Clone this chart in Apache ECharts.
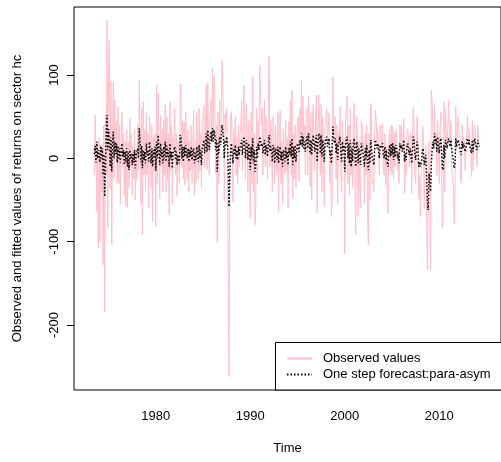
<!DOCTYPE html>
<html>
<head>
<meta charset="utf-8">
<script src="https://cdn.jsdelivr.net/npm/echarts@6/dist/echarts.min.js"></script>
<style>
  html, body { margin: 0; padding: 0; background: #fff; }
  #chart { width: 501px; height: 462px; }
</style>
</head>
<body>
<div id="chart"></div>
<script>
// monthly series, first value is July 1973
const startYear = 1973.5;

// observed returns
const observed = [
  -20, 52, 10, -64, 20, -108,
  25, -100, 15, -40, 10, -128, 40, -184, 52, -20, 166, -84,
  110, 142, -36, 92, -104, 30, 92, -24, 70, 10, 45, -30,
  62, -30, 40, -55, 25, 55, -10, 30, -45, 20, -58, 35,
  -60, 20, -35, 48, -10, 30, -45, 15, -25, 35, -50, 10,
  -26, 40, -15, 94, 20, -54, 60, -92, 68, -20, 35, -40,
  55, -20, 30, -60, 52, 10, -35, 40, -76, 25, -15, 30,
  -82, 88, -30, 78, 20, -48, 52, -10, 35, -40, 45, -20,
  64, -40, 50, -25, 30, -68, 68, -15, 40, -55, 25, 10,
  60, -20, 30, -45, 20, 10, -30, 90, 85, -10, 45, -25,
  44, -32, 56, 10, -25, 35, -40, 20, -15, 40, -30, 15,
  58, -44, 20, -30, 54, 10, -25, 60, -15, 30, -35, 40,
  48, 64, -10, 30, 88, -14, 90, 20, -20, 55, 70, 25,
  108, 30, 98, 78, -18, 40, -100, 56, -30, 70, 20, 45,
  118, 96, 40, -52, 54, 30, 60, 20, -152, -262, -30, 50,
  56, 20, -52, 35, 10, 50, -20, 25, -30, 40, -10, 30,
  40, 70, -15, 50, 88, 20, -25, 65, 30, -40, 45, 10,
  -72, 55, -30, 98, -40, 30, -80, -55, 60, -30, 45, 20,
  112, 80, 40, 60, -20, 30, 70, -10, 50, 20, -25, 75,
  123, -10, 45, 20, -40, 50, 30, -30, 40, 10, -20, 55,
  -64, 40, 58, -30, 20, -54, 35, 10, -20, 45, -15, 25,
  -60, 44, 10, 70, -20, 82, -48, 30, -25, 40, -35, 20,
  45, 50, -28, 60, 30, 94, 20, 75, 10, 40, -20, 55,
  60, -20, 74, 30, -34, 55, -50, 40, 65, 20, -15, 50,
  76, -66, 30, 76, 45, -20, 65, -40, 50, 10, -58, 40,
  45, 60, 20, 35, 55, -30, 10, -70, -50, 98, 40, 30,
  50, -25, 40, -54, 30, 20, 62, -15, -40, 45, 10, 25,
  -114, 45, 55, 74, -30, 40, -45, 60, -20, 20, -35, 50,
  66, -40, -92, 50, 30, -70, 20, -30, -60, 45, 40, 10,
  20, -54, 30, -20, 40, -66, -104, 30, -50, 66, 45, -30,
  -25, -40, 30, 58, 45, 20, 35, 10, -20, 40, 25, 15,
  42, -10, -20, 30, -32, 15, -45, -66, 20, 35, -15, 40,
  -20, 38, -25, 30, -10, 35, 25, -15, 10, -30, 40, 20,
  40, 10, 20, 48, -42, 5, -20, 30, 35, 25, -10, 20,
  30, -42, 25, 62, 40, -15, -30, 20, 50, 15, -48, -20,
  -70, -20, 5, 38, 20, -60, -10, 15, -75, -134, -50, 20,
  -40, -134, 82, 68, 35, 10, 64, 20, 30, -20, 45, 15,
  -30, 35, 55, -20, -84, -45, 68, -40, 60, 30, 10, 40,
  70, 30, 15, 45, -15, -25, -35, -78, -50, 62, 10, 25,
  50, 35, 25, -20, -30, 40, 15, 25, 20, -15, 10, 30,
  52, 20, 35, 15, 10, -22, 45, -15, 30, 40, 25, 10,
  -10, 40, 20, 15
];

// one step forecast (para-asym)
const fitted = [
  5, 15, -5, 20, 0, 10,
  10, -5, 15, 0, 12, -20, 5, -46, -10, 30, 52, 10,
  35, 20, -10, 25, -16, 15, 32, 0, 20, 5, 18, -5,
  15, 0, 12, -5, 10, 18, 2, 10, -8, 8, -4, 12,
  -10, 8, -14, 10, 0, 5, -8, 6, -5, 10, -12, 4,
  2, 12, 0, 36, 20, -5, 15, -12, 10, -2, 8, -6,
  18, 4, 10, -4, 20, 8, -6, 12, -10, 10, 2, 14,
  -15, 20, 0, 28, 10, -8, 18, 2, 10, -6, 14, 0,
  20, -4, 15, 2, 10, -10, 18, 0, 8, -12, 6, 4,
  14, -2, 8, -8, 4, 2, -6, 28, 24, 0, 14, -4,
  14, 2, 16, 6, 0, 12, -4, 10, 2, 14, -2, 8,
  12, -6, 6, -2, 14, 4, -4, 16, 0, 10, -8, 12,
  14, 22, 6, 16, 30, 8, 34, 18, 10, 24, 32, 20,
  36, 20, 34, 28, 10, 22, -16, 18, 6, 26, 16, 22,
  40, 34, 24, 0, 22, 16, 26, 18, -10, -58, -20, 10,
  18, 6, -6, 12, 4, 16, 0, 10, -2, 14, 4, 12,
  14, 22, 4, 16, 26, 12, 0, 22, 14, -2, 18, 8,
  -14, 14, 0, 24, -6, 10, -16, -10, 14, 0, 18, 10,
  26, 22, 14, 18, 6, 12, 22, 4, 16, 10, 2, 20,
  28, 8, 14, 10, -4, 16, 12, -6, 12, 6, -2, 14,
  -6, 10, 14, -2, 8, -10, 10, 4, -4, 14, 0, 8,
  -8, 12, 4, 20, 2, 24, -8, 14, 0, 16, -4, 8,
  18, 20, 8, 22, 16, 30, 14, 26, 12, 20, 8, 22,
  26, 12, 30, 18, 6, 22, 4, 18, 28, 16, 8, 22,
  28, -4, 16, 30, 24, 6, 28, 2, 22, 14, -4, 20,
  22, 26, 14, 20, 24, 4, 10, -6, -4, 38, 24, 18,
  24, 6, 18, -2, 16, 14, 26, 6, -4, 20, 10, 16,
  -16, 16, 22, 26, 0, 18, -6, 22, -10, 12, -4, 18,
  24, 4, -10, 20, 16, -6, 12, 0, -8, 18, 20, 8,
  10, -10, 12, 0, 16, -8, -14, 10, -6, 22, 20, 0,
  -4, -8, 10, 22, 20, 12, 18, 8, 0, 16, 12, 10,
  18, 4, 0, 14, -2, 10, -6, -10, 8, 16, 2, 18,
  4, 18, -2, 14, 2, 16, 12, 0, 6, -6, 18, 12,
  16, 8, 12, 22, -4, 6, -2, 14, 18, 16, 4, 12,
  14, -6, 10, 26, 22, 6, -2, 10, 20, 12, -10, -4,
  -10, -6, 0, 12, 8, -8, -2, 4, -20, -50, -62, -18,
  -26, -40, -6, 10, 20, 12, 30, 18, 24, 8, 26, 16,
  6, 20, 24, 10, -10, -14, 16, 0, 22, 18, 12, 20,
  24, 18, 14, 22, 10, 4, -4, -12, -8, 24, 14, 18,
  22, 18, 16, 8, 4, 20, 12, 18, 16, 8, 12, 20,
  24, 16, 22, 14, 12, 6, 22, 8, 18, 24, 18, 14,
  10, 22, 16, 14
];

const xTicks = [1980, 1990, 2000, 2010];
const yTicks = [-200, -100, 0, 100];

const font = "'Liberation Sans', Arial, sans-serif";

function toPairs(arr) {
  return arr.map(function (v, i) {
    return [startYear + i / 12, v];
  });
}

const chart = echarts.init(document.getElementById("chart"));

chart.setOption({
  backgroundColor: "#fff",
  animation: false,
  grid: {
    left: 74,
    top: 7,
    width: 428,
    height: 383,
    show: true,
    borderColor: "#000",
    borderWidth: 1,
    backgroundColor: "transparent"
  },
  xAxis: {
    type: "value",
    min: 1971.34,
    max: 2016.54,
    name: "Time",
    nameLocation: "middle",
    nameGap: 52,
    nameTextStyle: { fontFamily: font, fontSize: 13, color: "#000" },
    axisLine: { show: false },
    splitLine: { show: false },
    axisTick: {
      show: true,
      length: 7,
      customValues: xTicks,
      lineStyle: { color: "#000" }
    },
    axisLabel: {
      customValues: xTicks,
      formatter: function (v) { return String(v); },
      margin: 20,
      fontFamily: font,
      fontSize: 13,
      color: "#000"
    }
  },
  yAxis: {
    type: "value",
    min: -278,
    max: 181.6,
    name: "Observed and fitted values of returns on sector hc",
    nameLocation: "middle",
    nameGap: 50,
    nameTextStyle: { fontFamily: font, fontSize: 13, color: "#000" },
    axisLine: { show: false },
    splitLine: { show: false },
    axisTick: {
      show: true,
      length: 7,
      customValues: yTicks,
      lineStyle: { color: "#000" }
    },
    axisLabel: {
      customValues: yTicks,
      formatter: function (v) { return String(v); },
      rotate: 90,
      margin: 13,
      fontFamily: font,
      fontSize: 13,
      color: "#000"
    }
  },
  legend: {
    orient: "vertical",
    left: 286,
    top: 352,
    itemWidth: 25,
    itemHeight: 14,
    itemGap: 3,
    padding: 0,
    itemStyle: { opacity: 0 },
    data: ["Observed values", "One step forecast:para-asym"],
    textStyle: {
      fontFamily: font,
      fontSize: 13,
      color: "#000",
      padding: [0, 0, 0, 6]
    }
  },
  graphic: [
    {
      type: "rect",
      z: 0,
      shape: { x: 275.5, y: 342.5, width: 240, height: 47.5 },
      style: { fill: "#fff", stroke: "#000", lineWidth: 1 }
    }
  ],
  series: [
    {
      name: "Observed values",
      type: "line",
      data: toPairs(observed),
      symbol: "none",
      showSymbol: false,
      lineStyle: { color: "#FFC0CB", width: 1 },
      itemStyle: { color: "#FFC0CB" },
      z: 2
    },
    {
      name: "One step forecast:para-asym",
      type: "line",
      data: toPairs(fitted),
      symbol: "none",
      showSymbol: false,
      lineStyle: { color: "#000", width: 1.5, type: [1.5, 2] },
      itemStyle: { color: "#000" },
      z: 3
    }
  ]
});
</script>
</body>
</html>
